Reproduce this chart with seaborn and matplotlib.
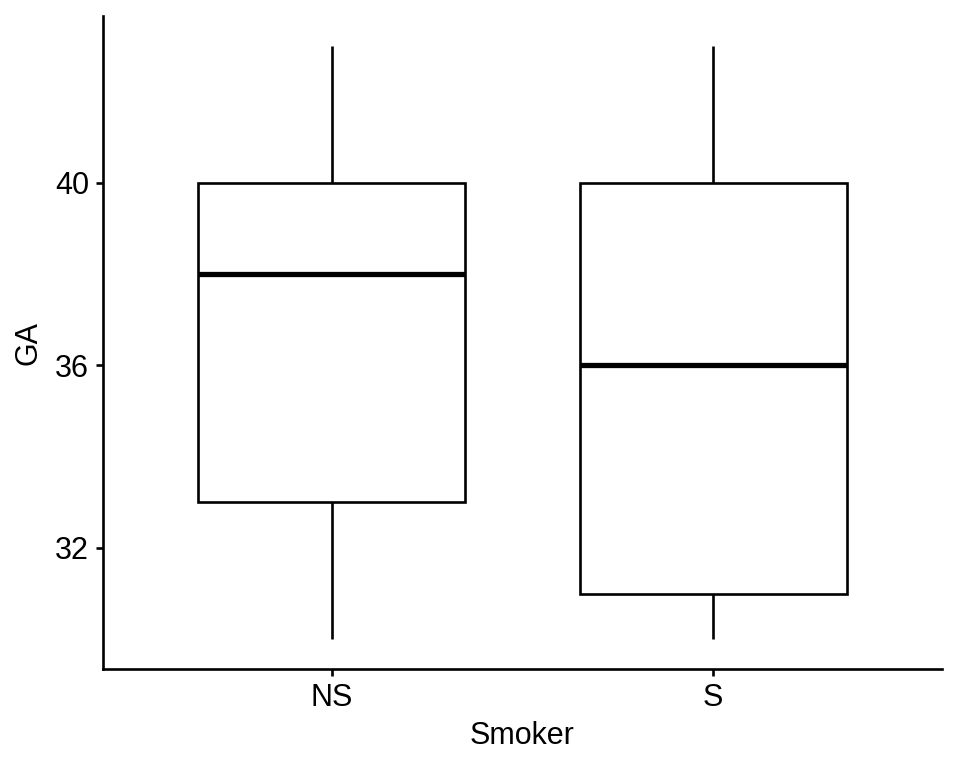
import matplotlib
matplotlib.use("Agg")
import matplotlib.pyplot as plt
import seaborn as sns
import pandas as pd

# five-number summaries (min, Q1, median, Q3, max)
groups = ["NS", "S"]
ns_values = [30, 33, 38, 40, 43]
s_values = [30, 31, 36, 40, 43]

df = pd.DataFrame({
    "Smoker": ["NS"] * len(ns_values) + ["S"] * len(s_values),
    "GA": ns_values + s_values,
})

sns.set_style("ticks")
plt.rcParams["font.family"] = ["Liberation Sans", "DejaVu Sans"]

fig = plt.figure(figsize=(9.6, 7.68), dpi=100)
ax = fig.add_axes([0.1073, 0.129, 0.874, 0.850])

sns.boxplot(data=df, x="Smoker", y="GA", order=groups, width=0.7,
            color="white", linecolor="black", linewidth=1.9,
            whis=1.5, fliersize=0, showcaps=False, ax=ax,
            medianprops={"linewidth": 3.8, "color": "black"})

ax.set_xlim(-0.6, 1.6)
ax.set_ylim(29.35, 43.65)
ax.set_yticks([32, 36, 40])

for side in ["top", "right"]:
    ax.spines[side].set_visible(False)
for side in ["left", "bottom"]:
    ax.spines[side].set_linewidth(1.9)
    ax.spines[side].set_color("black")

ax.tick_params(axis="both", labelsize=22, width=1.9, length=5, pad=5,
               color="black", labelcolor="black")
ax.set_xlabel("Smoker", fontsize=22, color="black", labelpad=6)
ax.set_ylabel("GA", fontsize=22, color="black", labelpad=8)

fig.savefig("out.png", dpi=100)
